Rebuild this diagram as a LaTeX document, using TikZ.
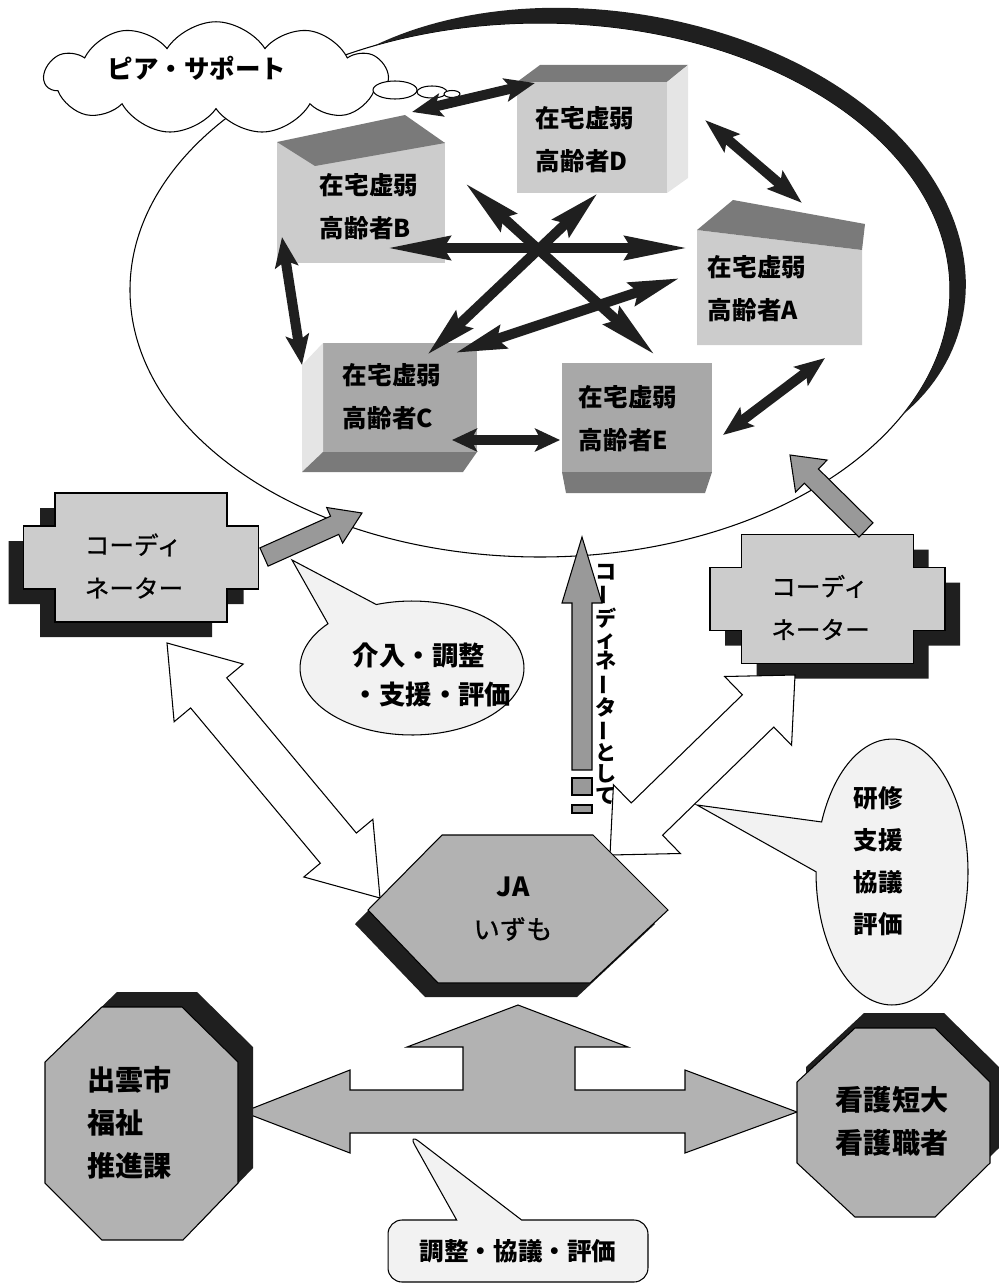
\documentclass[tikz,border=0pt]{standalone}
\usepackage{fontspec}
\setmainfont{Noto Sans CJK JP}
\newfontfamily\midfont{Noto Sans CJK JP}[FakeBold=0.8]
\usetikzlibrary{arrows.meta,calc,shapes.symbols,shapes.callouts}
\definecolor{Ink}{gray}{0.12}
\definecolor{Face}{gray}{0.80}
\definecolor{FaceDark}{gray}{0.66}
\definecolor{Roof}{gray}{0.48}
\definecolor{Side}{gray}{0.90}
\definecolor{Panel}{gray}{0.80}
\definecolor{Block}{gray}{0.70}
\definecolor{Bar}{gray}{0.60}
\definecolor{Bubble}{gray}{0.95}
\tikzset{
  peer/.style={draw=Ink,line width=2mm,{Stealth[length=#1,width=4.6mm,inset=1.2mm]}-{Stealth[length=#1,width=4.6mm,inset=1.2mm]}},
  boxtext/.style={font=\fontsize{14}{24.5}\selectfont\bfseries,align=left,inner sep=0pt},
  coordtext/.style={font=\midfont\fontsize{14}{24.5}\selectfont,align=left,inner sep=0pt},
  octtext/.style={font=\fontsize{16}{24.5}\selectfont\bfseries,align=left,inner sep=0pt},
  bubbletext/.style={font=\fontsize{14}{24}\selectfont\bfseries,align=left,inner sep=0pt},
  outline/.style={draw=black,line width=0.6pt},
  graybar/.style={outline,fill=Bar},
  whitebar/.style={outline,fill=white}
}
% long vowel mark set upright in a vertical line
\newcommand{\tatebar}{\rotatebox[origin=c]{90}{ー}}
% block arrow with one head: [style]{tail}{tip}{shaft half}{head half}{head length}
\newcommand{\blockarrow}[6][]{%
  \coordinate (headfwd) at ($(#3)!#6!(#2)$);
  \draw[#1] ($(#2)!#4!90:(#3)$) -- ($(headfwd)!#4!90:(#3)$) -- ($(headfwd)!#5!90:(#3)$) -- (#3)
    -- ($(headfwd)!#5!-90:(#3)$) -- ($(headfwd)!#4!-90:(#3)$) -- ($(#2)!#4!-90:(#3)$) -- cycle;}
% block arrow with two heads
\newcommand{\twinarrow}[6][]{%
  \coordinate (headfwd) at ($(#3)!#6!(#2)$);
  \coordinate (headback) at ($(#2)!#6!(#3)$);
  \draw[#1] (#2) -- ($(headback)!#5!90:(#3)$) -- ($(headback)!#4!90:(#3)$) -- ($(headfwd)!#4!90:(#3)$)
    -- ($(headfwd)!#5!90:(#3)$) -- (#3) -- ($(headfwd)!#5!-90:(#3)$) -- ($(headfwd)!#4!-90:(#3)$)
    -- ($(headback)!#4!-90:(#3)$) -- ($(headback)!#5!-90:(#3)$) -- cycle;}
% stepped panel with its shadow: {name}{centre}{shadow shift}
\newcommand{\coordbox}[3]{%
  \begin{scope}[shift={#2}]
    \fill[Ink,shift={#3}] (-86,64.5) -- (86,64.5) -- (86,31.5) -- (117.5,31.5) -- (117.5,-31.5) -- (86,-31.5) -- (86,-64.5)
      -- (-86,-64.5) -- (-86,-31.5) -- (-117.5,-31.5) -- (-117.5,31.5) -- (-86,31.5) -- cycle;
    \draw[outline,fill=Panel] (-86,64.5) -- (86,64.5) -- (86,31.5) -- (117.5,31.5) -- (117.5,-31.5) -- (86,-31.5) -- (86,-64.5)
      -- (-86,-64.5) -- (-86,-31.5) -- (-117.5,-31.5) -- (-117.5,31.5) -- (-86,31.5) -- cycle;
    \node[coordtext] (#1) at (-7,-8.5) {コーディ\\ネーター};
  \end{scope}}

\begin{document}
\begin{tikzpicture}[x=0.02cm,y=0.02cm,
    declare function={crest(\t)=17*(1-(1-abs(sin(1.2676*(\t+28))))^3);}]
  \useasboundingbox (0,0) rectangle (999,-1284);

  % peer support circle
  \draw[outline] (540,-290) ellipse [x radius=410,y radius=267];
  \fill[Ink] plot[domain=-28:114,samples=100,variable=\t] ({540+(410+crest(\t))*cos(\t)},{-290+(267+crest(\t))*sin(\t)})
    -- plot[domain=114:-28,samples=100,variable=\t] ({540+410*cos(\t)},{-290+267*sin(\t)}) -- cycle;

  \node[cloud,outline,fill=white,cloud puffs=11,cloud puff arc=115,aspect=3.1,minimum width=6.86cm,minimum height=2.25cm,inner sep=0pt] (cloud) at (216,-78) {};
  \draw[outline,fill=white] (395,-90) ellipse [x radius=22,y radius=9];
  \draw[outline,fill=white] (432,-92) ellipse [x radius=15,y radius=6];
  \draw[outline,fill=white] (452,-94) ellipse [x radius=8,y radius=3.5];
  \node[font=\fontsize{14.5}{17}\selectfont\bfseries,inner sep=0pt] (peerlabel) at (197,-68) {ピア・サポート};

  % the five elders
  \fill[Face] (277,-142) rectangle (445,-263);
  \fill[Roof] (277,-142) -- (405,-115) -- (445,-143) -- (315,-166) -- cycle;
  \fill[Face] (517,-82) rectangle (667,-193);
  \fill[Roof] (517,-82) -- (540,-65) -- (688,-65) -- (667,-82) -- cycle;
  \fill[Side] (667,-82) -- (688,-65) -- (688,-178) -- (667,-193) -- cycle;
  \fill[Face] (697,-230) -- (862,-250) -- (862,-345) -- (697,-345) -- cycle;
  \fill[Roof] (697,-230) -- (733,-200) -- (865,-224) -- (862,-250) -- cycle;
  \fill[FaceDark] (323,-343) rectangle (477,-452);
  \fill[Side] (302,-365) -- (323,-343) -- (323,-452) -- (302,-472) -- cycle;
  \fill[Roof] (323,-452) -- (477,-452) -- (463,-472) -- (302,-472) -- cycle;
  \fill[FaceDark] (562,-363) rectangle (712,-472);
  \fill[Roof] (562,-472) -- (712,-472) -- (705,-493) -- (566,-493) -- cycle;

  \node[boxtext] (boxB) at (369,-207) {在宅虚弱\\高齢者B};
  \node[boxtext] (boxD) at (585,-140) {在宅虚弱\\高齢者D};
  \node[boxtext] (boxA) at (757,-289) {在宅虚弱\\高齢者A};
  \node[boxtext] (boxC) at (392,-397) {在宅虚弱\\高齢者C};
  \node[boxtext] (boxE) at (628,-419) {在宅虚弱\\高齢者E};

  % ends of the peer arrows
  \coordinate (bd-b) at (412,-112); \coordinate (bd-d) at (535,-83);
  \coordinate (da-d) at (705,-120); \coordinate (da-a) at (802,-203);
  \coordinate (bc-b) at (282,-237); \coordinate (bc-c) at (302,-365);
  \coordinate (ae-a) at (825,-358); \coordinate (ae-e) at (723,-435);
  \coordinate (ce-c) at (452,-440); \coordinate (ce-e) at (560,-440);
  \coordinate (ba-b) at (387,-248); \coordinate (ba-a) at (688,-248);
  \coordinate (be-b) at (465,-183); \coordinate (be-e) at (655,-355);
  \coordinate (cd-c) at (427,-355); \coordinate (cd-d) at (598,-193);
  \coordinate (ca-c) at (455,-353); \coordinate (ca-a) at (680,-278);

  \draw[peer=6mm] (bd-b) -- (bd-d);
  \draw[peer=7mm] (da-d) -- (da-a);
  \draw[peer=6mm] (bc-b) -- (bc-c);
  \draw[peer=6mm] (ae-a) -- (ae-e);
  \draw[peer=5mm] (ce-c) -- (ce-e);
  \draw[peer=12.5mm] (ba-b) -- (ba-a);
  \draw[peer=11.5mm] (be-b) -- (be-e);
  \draw[peer=10mm] (cd-c) -- (cd-d);
  \draw[peer=10mm] (ca-c) -- (ca-a);

  % coordinators
  \coordbox{coordL}{(141,-557.5)}{(-15,-15)}
  \coordbox{coordR}{(827.5,-599)}{(15,-15)}

  \coordinate (lc-tail) at (264,-557); \coordinate (lc-tip) at (362,-513);
  \coordinate (rc-tail) at (866,-530); \coordinate (rc-tip) at (790,-455);
  \coordinate (ja-tail) at (582,-770); \coordinate (ja-tip) at (582,-537);
  \blockarrow[graybar]{lc-tail}{lc-tip}{2mm}{3.9mm}{6mm}
  \blockarrow[graybar]{rc-tail}{rc-tip}{2mm}{4.5mm}{6mm}
  \blockarrow[graybar]{ja-tail}{ja-tip}{2mm}{4mm}{13.2mm}
  \draw[graybar] (572,-778) rectangle (592,-795);
  \draw[graybar] (572,-805) rectangle (592,-813);
  \node[font=\fontsize{12}{12.1}\selectfont\bfseries,align=center,inner sep=0pt] (aslabel) at (606,-684)
    {コ\\\tatebar\\デ\\ィ\\ネ\\\tatebar\\タ\\\tatebar\\と\\し\\て};

  \coordinate (lw-top) at (167,-643); \coordinate (lw-bot) at (380,-898);
  \coordinate (rw-top) at (795,-675); \coordinate (rw-bot) at (610,-855);
  \twinarrow[whitebar]{lw-top}{lw-bot}{4.7mm}{9mm}{13mm}
  \twinarrow[whitebar]{rw-top}{rw-bot}{4.5mm}{9.6mm}{10.3mm}

  % callouts
  \node[ellipse callout,outline,fill=Bubble,minimum width=4.48cm,minimum height=2.68cm,callout absolute pointer={(292,-560)},callout pointer arc=30] (tasks) at (412,-668) {};
  \node[bubbletext,font=\fontsize{15}{22.7}\selectfont\bfseries] (taskstext) at (432,-675) {介入・調整\\・支援・評価};
  \node[ellipse callout,outline,fill=Bubble,minimum width=3.04cm,minimum height=5.32cm,callout absolute pointer={(697,-805)},callout pointer arc=22] (train) at (892,-872) {};
  \node[bubbletext] (traintext) at (878,-861) {研修\\支援\\協議\\評価};

  % JA
  \fill[Ink,shift={(-13,-14)}] (442,-835) -- (593,-835) -- (668,-910) -- (590,-983) -- (438,-983) -- (368,-910) -- cycle;
  \draw[outline,fill=Block] (442,-835) -- (593,-835) -- (668,-910) -- (590,-983) -- (438,-983) -- (368,-910) -- cycle;
  \node[font=\midfont\fontsize{15}{24}\selectfont,align=center,inner sep=0pt] (ja) at (513,-909) {{\normalfont\bfseries JA}\\いずも};

  % three-way arrow
  \draw[outline,fill=Block] (243,-1112) -- (350,-1070) -- (350,-1090) -- (463,-1090) -- (463,-1047) -- (407,-1047) -- (518,-1005)
    -- (628,-1047) -- (575,-1047) -- (575,-1090) -- (685,-1090) -- (685,-1070) -- (797,-1112) -- (685,-1153) -- (685,-1133)
    -- (350,-1133) -- (350,-1153) -- cycle;

  % partners
  \fill[Ink,shift={(15,15)}] (102,-1007) -- (182,-1007) -- (238,-1062) -- (238,-1183) -- (183,-1240) -- (102,-1240) -- (45,-1183) -- (45,-1062) -- cycle;
  \draw[outline,fill=Block] (102,-1007) -- (182,-1007) -- (238,-1062) -- (238,-1183) -- (183,-1240) -- (102,-1240) -- (45,-1183) -- (45,-1062) -- cycle;
  \node[octtext,anchor=west] (izumo) at (87,-1123) {出雲市\\福祉\\推進課};
  \fill[Ink,shift={(9,15)}] (855,-1028) -- (935,-1028) -- (990,-1082) -- (990,-1163) -- (935,-1217) -- (855,-1217) -- (797,-1163) -- (797,-1082) -- cycle;
  \draw[outline,fill=Block] (855,-1028) -- (935,-1028) -- (990,-1082) -- (990,-1163) -- (935,-1217) -- (855,-1217) -- (797,-1163) -- (797,-1082) -- cycle;
  \node[octtext] (nurse) at (892,-1121) {看護短大\\看護職者};

  \node[rectangle callout,outline,fill=Bubble,rounded corners=8pt,minimum width=5.2cm,minimum height=1.24cm,callout absolute pointer={(408,-1133)},callout pointer width=1.3cm,font=\fontsize{14}{17}\selectfont\bfseries] (review) at (518,-1251) {調整・協議・評価};
\end{tikzpicture}
\end{document}
